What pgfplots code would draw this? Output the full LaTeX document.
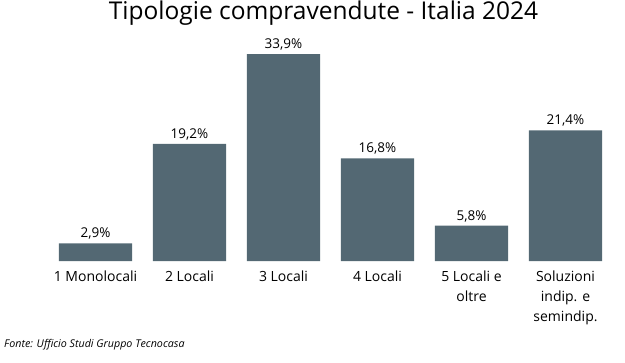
\documentclass[border=0pt]{standalone}
\usepackage{pgfplots}
\pgfplotsset{compat=1.18}
\usepackage{fontspec}
\setmainfont{Open Sans}
\definecolor{barc}{RGB}{83,104,115}
\begin{document}
\begin{tikzpicture}
\path[use as bounding box] (0,0) rectangle (625bp,363bp);
\begin{axis}[
  at={(95.5bp,102bp)}, anchor=origin,
  scale only axis, width=564bp, height=213.7bp,
  xmin=-0.5, xmax=5.5, ymin=0, ymax=35,
  axis x line=bottom, axis y line=none,
  x axis line style={draw=none},
  clip=false,
  ybar, bar width=0.777, bar shift=0pt,
  xtick={0,1,2,3,4,5},
  major tick length=0pt,
  /pgf/number format/assume math mode=true,
  xticklabels={{1 Monolocali},{2 Locali},{3 Locali},{4 Locali},{5 Locali e\\oltre},{Soluzioni\\indip. e\\semindip.}},
  xticklabel style={align=center, font=\fontsize{14bp}{20bp}\selectfont, inner sep=0pt, anchor=north, yshift=-10bp},
]
\addplot[fill=barc, draw=none,
  nodes near coords={\pgfmathprintnumber[fixed,fixed zerofill,precision=1,use comma,assume math mode=true]{\pgfplotspointmeta}\%},
  every node near coord/.append style={font=\fontsize{13.5bp}{14bp}\selectfont, text=black, inner sep=0pt, anchor=south, yshift=3.5bp}]
  coordinates {(0,2.9) (1,19.2) (2,33.9) (3,16.8) (4,5.8) (5,21.4)};
\end{axis}
\node[font=\fontsize{24.5bp}{28bp}\selectfont, inner sep=0pt, anchor=base] at (323.5bp,343bp) {Tipologie compravendute - Italia 2024};
\node[font=\fontsize{10.7bp}{12bp}\selectfont\itshape, anchor=base west, inner sep=0pt] at (4bp,16bp) {Fonte: Ufficio Studi Gruppo Tecnocasa};
\end{tikzpicture}
\end{document}
